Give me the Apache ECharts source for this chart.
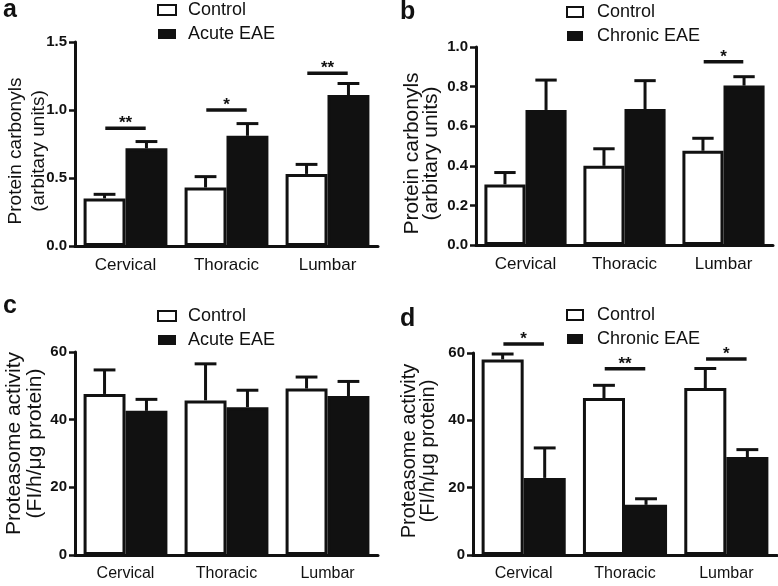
<!DOCTYPE html>
<html>
<head>
<meta charset="utf-8">
<script src="https://cdn.jsdelivr.net/npm/echarts@6/dist/echarts.min.js"></script>
<style>html,body{margin:0;padding:0;background:#fff;}#c{width:778px;height:586px;}</style>
</head>
<body>
<div id="c"></div>
<script>
const categories = ['Cervical', 'Thoracic', 'Lumbar'];

// Panel a: protein carbonyls, acute EAE
const aControl = [0.35, 0.43, 0.53];
const aControlSem = [0.03, 0.08, 0.07];
const aAcute = [0.718, 0.81, 1.11];
const aAcuteSem = [0.05, 0.09, 0.085];
const aSigCat = [0, 1, 2];
const aSigY = [0.865, 1.0, 1.27];
const aSigLabel = ['**', '*', '**'];
const aTicks = [0, 1.5, 0.5];

// Panel b: protein carbonyls, chronic EAE
const bControl = [0.306, 0.40, 0.476];
const bControlSem = [0.06, 0.086, 0.063];
const bChronic = [0.682, 0.687, 0.805];
const bChronicSem = [0.151, 0.143, 0.045];
const bSigCat = [2];
const bSigY = [0.925];
const bSigLabel = ['*'];
const bTicks = [0, 1.0, 0.2];

// Panel c: proteasome activity, acute EAE
const cControl = [47.6, 45.7, 49.2];
const cControlSem = [7.1, 10.8, 3.4];
const cAcute = [42.6, 43.7, 47.0];
const cAcuteSem = [3.4, 5.0, 4.3];
const cSigCat = [];
const cSigY = [];
const cSigLabel = [];
const cTicks = [0, 60, 20];

// Panel d: proteasome activity, chronic EAE
const dControl = [58.1, 46.6, 49.6];
const dControlSem = [1.6, 3.8, 5.8];
const dChronic = [22.9, 14.9, 29.1];
const dChronicSem = [8.9, 1.8, 2.2];
const dSigCat = [0, 1, 2];
const dSigY = [62.7, 55.3, 58.2];
const dSigLabel = ['*', '**', '*'];
const dTicks = [0, 60, 20];

const FONT = 'Liberation Sans, Arial, sans-serif';
const INK = '#111';
const GAP = 0.17; // barCategoryGap fraction

const panels = [
  { letter: 'a', grid: {left: 75, top: 42, width: 303, height: 204}, ctrl: aControl, ctrlSem: aControlSem, dis: aAcute, disSem: aAcuteSem, disName: 'Acute EAE', sigCat: aSigCat, sigY: aSigY, sigLab: aSigLabel, ticks: aTicks, dec: 1,
    yName: 'Protein carbonyls\n(arbitary units)', nameSize: 19, nameLH: 23, nameGap: 25, namePad: [0, 14, 0, 0], xSize: 17,
    legend: {left: 157, top: 0, w: 18, gap: 12}, letterPos: [3, -2] },
  { letter: 'b', grid: {left: 476, top: 47, width: 297, height: 198}, ctrl: bControl, ctrlSem: bControlSem, dis: bChronic, disSem: bChronicSem, disName: 'Chronic EAE', sigCat: bSigCat, sigY: bSigY, sigLab: bSigLabel, ticks: bTicks, dec: 1,
    yName: 'Protein carbonyls\n(arbitary units)', nameSize: 21, nameLH: 19, nameGap: 35, namePad: [0, 15, 0, 0], xSize: 17,
    legend: {left: 566, top: 2, w: 16, gap: 14}, letterPos: [400, 0] },
  { letter: 'c', grid: {left: 75, top: 352, width: 303, height: 203}, ctrl: cControl, ctrlSem: cControlSem, dis: cAcute, disSem: cAcuteSem, disName: 'Acute EAE', sigCat: cSigCat, sigY: cSigY, sigLab: cSigLabel, ticks: cTicks, dec: 0,
    yName: 'Proteasome activity\n(FI/h/\u03bcg protein)', nameSize: 21, nameLH: 21, nameGap: 29, namePad: [0, 0, 0, 20], xSize: 16,
    legend: {left: 157, top: 306, w: 18, gap: 12}, letterPos: [3, 294] },
  { letter: 'd', grid: {left: 473, top: 353, width: 304, height: 202}, ctrl: dControl, ctrlSem: dControlSem, dis: dChronic, disSem: dChronicSem, disName: 'Chronic EAE', sigCat: dSigCat, sigY: dSigY, sigLab: dSigLabel, ticks: dTicks, dec: 0,
    yName: 'Proteasome activity\n(FI/h/\u03bcg protein)', nameSize: 20, nameLH: 19, nameGap: 35, namePad: [0, 0, 0, 6], xSize: 16,
    legend: {left: 566, top: 305, w: 16, gap: 14}, letterPos: [400, 307] }
];

const grids = [], xAxes = [], yAxes = [], series = [], legends = [], graphics = [];

function errorRender(side) {
  return function (params, api) {
    const i = api.value(0);
    const m = api.value(1);
    const s = api.value(2);
    const band = api.size([1, 0])[0];
    const barW = band * (1 - GAP) / 2;
    const base = api.coord([i, m]);
    const top = api.coord([i, m + s]);
    const x = base[0] + side * barW / 2;
    const cap = barW * 0.52;
    const st = {stroke: INK, lineWidth: 3};
    return {
      type: 'group',
      children: [
        {type: 'line', shape: {x1: x, y1: base[1], x2: x, y2: top[1]}, style: st},
        {type: 'line', shape: {x1: x - cap / 2, y1: top[1], x2: x + cap / 2, y2: top[1]}, style: st}
      ]
    };
  };
}

function sigRender(labels) {
  return function (params, api) {
    const c = api.coord([api.value(0), api.value(1)]);
    const band = api.size([1, 0])[0];
    const w = band * 0.4;
    return {
      type: 'group',
      children: [
        {type: 'line', shape: {x1: c[0] - w / 2, y1: c[1], x2: c[0] + w / 2, y2: c[1]}, style: {stroke: INK, lineWidth: 3.5}},
        {type: 'text', x: c[0], y: c[1] - 5, style: {text: labels[params.dataIndex], fill: INK, font: 'bold 17px ' + FONT, align: 'center', verticalAlign: 'middle'}}
      ]
    };
  };
}

panels.forEach((p, k) => {
  grids.push(Object.assign({containLabel: false}, p.grid));
  xAxes.push({
    type: 'category', gridIndex: k, data: categories,
    axisLine: {lineStyle: {color: INK, width: 3}},
    axisTick: {alignWithLabel: true, length: 6, lineStyle: {color: INK, width: 2.5}},
    axisLabel: {color: INK, fontSize: p.xSize, fontFamily: FONT, margin: 11}
  });
  yAxes.push({
    type: 'value', gridIndex: k, min: p.ticks[0], max: p.ticks[1], interval: p.ticks[2],
    splitLine: {show: false},
    axisLine: {show: true, lineStyle: {color: INK, width: 3}},
    axisTick: {show: true, length: 6, lineStyle: {color: INK, width: 2.5}},
    axisLabel: {color: INK, fontSize: 15, fontWeight: 'bold', fontFamily: FONT, margin: 8,
      formatter: (v) => v.toFixed(p.dec)},
    name: p.yName, nameLocation: 'middle', nameRotate: 90, nameGap: p.nameGap,
    nameMoveOverlap: false,
    nameTextStyle: {color: INK, fontSize: p.nameSize, lineHeight: p.nameLH, fontFamily: FONT, padding: p.namePad}
  });
  series.push({
    type: 'bar', name: 'Control', xAxisIndex: k, yAxisIndex: k, data: p.ctrl,
    barGap: '0%', barCategoryGap: (GAP * 100) + '%',
    itemStyle: {color: '#fff', borderColor: INK, borderWidth: 3}, z: 2
  });
  series.push({
    type: 'bar', name: p.disName, xAxisIndex: k, yAxisIndex: k, data: p.dis,
    barGap: '0%', barCategoryGap: (GAP * 100) + '%',
    itemStyle: {color: INK, borderColor: INK, borderWidth: 3}, z: 2
  });
  series.push({
    type: 'custom', name: 'err-ctrl', xAxisIndex: k, yAxisIndex: k, clip: false, z: 3,
    data: p.ctrl.map((v, i) => [i, v, p.ctrlSem[i]]),
    renderItem: errorRender(-1), silent: true
  });
  series.push({
    type: 'custom', name: 'err-dis', xAxisIndex: k, yAxisIndex: k, clip: false, z: 3,
    data: p.dis.map((v, i) => [i, v, p.disSem[i]]),
    renderItem: errorRender(1), silent: true
  });
  if (p.sigCat.length) {
    series.push({
      type: 'custom', name: 'sig', xAxisIndex: k, yAxisIndex: k, clip: false, z: 3,
      data: p.sigCat.map((c, i) => [c, p.sigY[i]]),
      renderItem: sigRender(p.sigLab), silent: true
    });
  }
  legends.push({
    orient: 'vertical', left: p.legend.left, top: p.legend.top, padding: 0,
    itemWidth: p.legend.w, itemHeight: 10, itemGap: 4,
    selectedMode: false, icon: 'rect',
    textStyle: {color: INK, fontSize: 18, fontFamily: FONT, lineHeight: 20, padding: [0, 0, 0, p.legend.gap - 5]},
    data: [
      {name: 'Control', itemStyle: {color: '#fff', borderColor: INK, borderWidth: 2}},
      {name: p.disName, itemStyle: {color: INK, borderColor: INK, borderWidth: 0}}
    ]
  });
  graphics.push({
    type: 'text', left: p.letterPos[0], top: p.letterPos[1],
    style: {text: p.letter, fill: INK, font: 'bold 25px ' + FONT}
  });
});

const chart = echarts.init(document.getElementById('c'), null, {renderer: 'canvas'});
chart.setOption({
  backgroundColor: '#fff',
  animation: false,
  grid: grids, xAxis: xAxes, yAxis: yAxes, series: series,
  legend: legends, graphic: graphics
});
</script>
</body>
</html>
